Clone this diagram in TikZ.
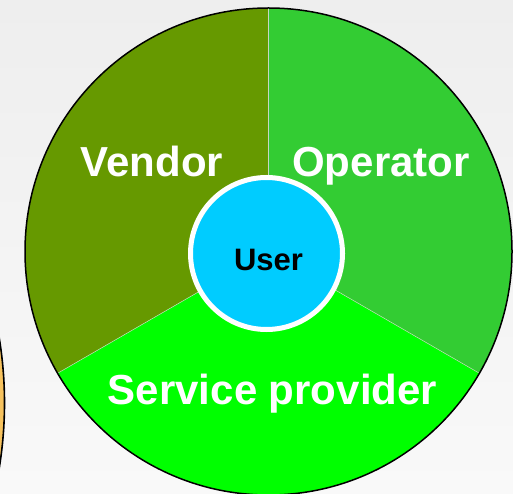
\documentclass[tikz,border=0pt]{standalone}
\usepackage{fontspec}
\setmainfont{Liberation Sans}
\definecolor{vendorgreen}{HTML}{669900}
\definecolor{operatorgreen}{HTML}{33CC33}
\definecolor{servicegreen}{HTML}{00FF00}
\definecolor{usercyan}{HTML}{00CCFF}
\definecolor{sideorange}{HTML}{F7C35F}
\definecolor{bgtop}{HTML}{EEEEEE}
\definecolor{bgbottom}{HTML}{F9F9F9}
\definecolor{seam}{HTML}{C8D8C0}
\begin{document}
\begin{tikzpicture}[x=1pt,y=1pt,
  sectorlabel/.style={text=white,font=\bfseries\fontsize{42}{42}\selectfont,inner sep=0pt,anchor=base},
  centerlabel/.style={text=black,font=\bfseries\fontsize{31}{31}\selectfont,inner sep=0pt,anchor=base},
  seamline/.style={draw=seam,line width=0.5pt}]
\useasboundingbox (0,0) rectangle (513,493);
% soft background
\shade[top color=bgtop,bottom color=bgbottom] (0,0) rectangle (513,493);
% edge of the neighbouring orange disc
\begin{scope}
  \clip (0,0) rectangle (513,493);
  \draw[fill=sideorange,line width=1.6pt] (-395.5,90) circle[radius=400];
\end{scope}
% the three sectors of the wheel
\coordinate (c) at (268.5,241.5);
\fill[vendorgreen] (c) -- ++(90:243.5) arc[start angle=90,end angle=210,radius=243.5] -- cycle;
\fill[operatorgreen] (c) -- ++(-30:243.5) arc[start angle=-30,end angle=90,radius=243.5] -- cycle;
\fill[servicegreen] (c) -- ++(210:243.5) arc[start angle=210,end angle=330,radius=243.5] -- cycle;
\draw[seamline] (c) -- ++(90:243.5);
\draw[seamline] (c) -- ++(210:243.5);
\draw[seamline] (c) -- ++(-30:243.5);
\draw[line width=1.5pt] (c) circle[radius=243.5];
% hub
\node[circle,fill=usercyan,draw=white,line width=5pt,minimum size=152pt,inner sep=0pt] (hub) at (266.5,239.5) {};
\node[centerlabel] (user) at (268.5,223) {User};
% sector labels
\node[sectorlabel] (vendor) at (152,316) {Vendor};
\node[sectorlabel] (operator) at (381,316) {Operator};
\node[sectorlabel] (service) at (272.5,89) {Service provider};
\end{tikzpicture}
\end{document}
